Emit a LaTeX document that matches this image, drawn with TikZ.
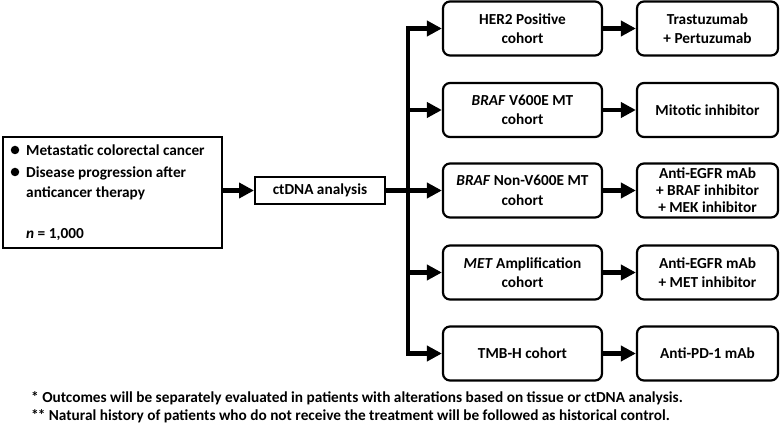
\documentclass[tikz,border=0pt]{standalone}
\usepackage{fontspec}
\setmainfont{Carlito}
\usetikzlibrary{arrows.meta}
\tikzset{
  rbox/.style={draw, line width=2.2pt, rounded corners=7pt, minimum height=54pt, align=center, inner sep=0pt,
    font=\bfseries\fontsize{15.3}{19.5}\selectfont},
  cohortbox/.style={rbox, minimum width=159pt},
  treatbox/.style={rbox, minimum width=141pt},
  sqbox/.style={draw, line width=2pt, inner sep=0pt},
  arr/.style={line width=4.5pt, line join=miter, -{Triangle[length=15pt,width=15pt]}},
  txt/.style={anchor=base west, inner sep=0pt, font=\bfseries\fontsize{15.3}{19}\selectfont},
  foot/.style={anchor=base west, inner sep=0pt, font=\bfseries\fontsize{15.3}{19}\selectfont},
  dot/.style={circle, fill=black, inner sep=0pt, minimum size=8.5pt}
}
\begin{document}
\begin{tikzpicture}[x=1pt,y=-1pt]
\useasboundingbox (0,0) rectangle (780,425);

% left source box
\node[sqbox, minimum width=219pt, minimum height=111pt, anchor=north west] (src) at (2,136) {};
\node[dot] (b1) at (15,150) {};
\node[dot] (b2) at (15,172) {};
\node[txt] (t1) at (26,155.5) {Metastatic colorectal cancer};
\node[txt] (t2) at (26,177.5) {Disease progression after};
\node[txt] (t3) at (26,198) {anticancer therapy};
\node[txt] (t4) at (26,238.5) {\textit{n} = 1,000};

% ctDNA box
\node[sqbox, minimum width=130pt, minimum height=27pt, font=\bfseries\fontsize{15.3}{19}\selectfont] (ct) at (320,190.5) {ctDNA analysis};

% cohort boxes
\node[cohortbox] (c1) at (522.5,28.5) {HER2 Positive\\cohort};
\node[cohortbox] (c2) at (522.5,110) {\textit{BRAF} V600E MT\\cohort};
\node[cohortbox] (c3) at (522.5,190.5) {\textit{BRAF} Non-V600E MT\\cohort};
\node[cohortbox] (c4) at (522.5,272.5) {\textit{MET} Amplification\\cohort};
\node[cohortbox] (c5) at (522.5,353.5) {TMB-H cohort};

% treatment boxes
\node[treatbox] (d1) at (707.5,28.5) {Trastuzumab\\+ Pertuzumab};
\node[treatbox] (d2) at (707.5,110) {Mitotic inhibitor};
\node[treatbox, font=\bfseries\fontsize{15.3}{17}\selectfont] (d3) at (707.5,190.5) {Anti-EGFR mAb\\+ BRAF inhibitor\\+ MEK inhibitor};
\node[treatbox] (d4) at (707.5,272.5) {Anti-EGFR mAb\\+ MET inhibitor};
\node[treatbox] (d5) at (707.5,353.5) {Anti-PD-1 mAb};

% connectors
\coordinate (tj) at (408,190.5);
\draw[arr] (src.east |- ct.west) -- (ct.west);
\draw[arr] (ct.east) -- (c3.west);
\draw[arr] (tj) |- (c1.west);
\draw[arr] (tj) |- (c5.west);
\draw[arr] (tj |- c2.west) -- (c2.west);
\draw[arr] (tj |- c4.west) -- (c4.west);
\foreach \i in {1,...,5}{\draw[arr] (c\i.east) -- (d\i.west);}

% footnotes
\node[foot] (f1) at (31,402) {* Outcomes will be separately evaluated in patients with alterations based on tissue or ctDNA analysis.};
\node[foot] (f2) at (31,420) {*\kern-1pt* Natural history of patients who do not receive the treatment will be followed as historical control.};
\end{tikzpicture}
\end{document}
